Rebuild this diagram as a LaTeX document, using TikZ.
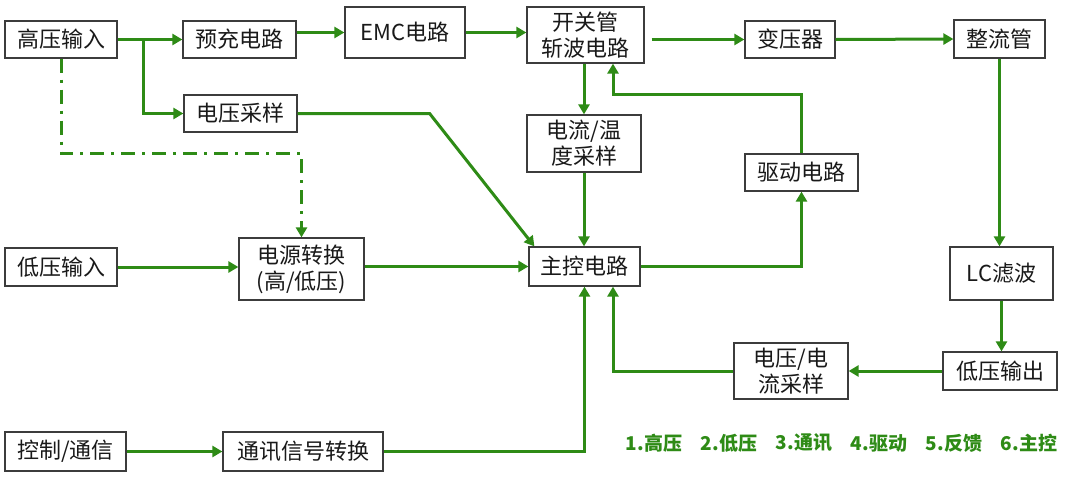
\documentclass[tikz,border=0pt]{standalone}
\usepackage{fontspec}
\setmainfont{Noto Sans CJK SC}
\usetikzlibrary{arrows.meta}
\definecolor{lnclr}{RGB}{46,139,22}
\definecolor{bdclr}{RGB}{60,60,60}

\begin{document}
\begin{tikzpicture}[x=1pt,y=-1pt,
  blk/.style={draw=bdclr,line width=1.2pt,fill=white,align=center,inner sep=0pt,
    text=black!90,font=\fontsize{22}{26}\selectfont},
  sz/.style 2 args={minimum width=#1pt,minimum height=#2pt},
  ln/.style={draw=lnclr,line width=3pt,-{Triangle[length=10pt,width=11pt]}},
  lnd/.style={ln,dash pattern=on 14pt off 7pt on 3pt off 7pt}]

            \useasboundingbox (0,0) rectangle (1080,480);

            % top row
            \node[blk,sz={112}{37}] (hv) at (61,39.5) {高压输入};
            \node[blk,sz={113}{37}] (pre) at (239.5,39.5) {预充电路};
            \node[blk,sz={120}{51}] (emc) at (405,32.5) {EMC电路};
            \node[blk,sz={117}{56}] (chop) at (585.5,35) {开关管\\斩波电路};
            \node[blk,sz={90}{37}] (tf) at (790,39.5) {变压器};
            \node[blk,sz={91}{38}] (rect) at (999.5,39) {整流管};

            % sampling and drive
            \node[blk,sz={113}{37}] (vs) at (240.5,113.5) {电压采样};
            \node[blk,sz={114}{57}] (cts) at (584,143.5) {电流/温\\度采样};
            \node[blk,sz={113}{37}] (drv) at (801.5,172.5) {驱动电路};

            % middle row
            \node[blk,sz={112}{38}] (lv) at (61,267) {低压输入};
            \node[blk,sz={125}{62}] (psu) at (301.5,269) {电源转换\\(高/低压)};
            \node[blk,sz={111}{39}] (mcu) at (584.5,266.5) {主控电路};
            \node[blk,sz={103}{53}] (lc) at (1001.5,273.5) {LC滤波};

            % output and feedback
            \node[blk,sz={114}{38}] (lvo) at (1000,371) {低压输出};
            \node[blk,sz={114}{56}] (fbs) at (791,371) {电压/电\\流采样};

            % bottom row
            \node[blk,sz={121}{39}] (ctl) at (65.5,451.5) {控制/通信};
            \node[blk,sz={160}{39}] (com) at (303,451.5) {通讯信号转换};

            % high voltage path
            \coordinate (br) at ([xshift=26pt]hv.east);
            \draw[ln] (hv.east) -- (pre.west);
            \draw[ln] (br) |- (vs.west);
            \draw[ln] (pre.east |- emc.west) -- (emc.west);
            \draw[ln] (emc.east) -- (chop.west |- emc.east);
            \draw[ln,shorten <=7pt] (chop.east |- tf.west) -- (tf.west);
            \draw[ln] (tf.east) -- (rect.west);
            \draw[ln] (rect.south) -- (rect.south |- lc.north);
            \draw[ln] (lc.south) -- (lc.south |- lvo.north);
            \draw[ln] (lvo.west) -- (fbs.east);
            \draw[lnd] (hv.south) -- ++(0,95) -| (psu.north);

            % control paths
            \coordinate (fbin) at ([xshift=28.5pt]mcu.south);
            \coordinate (drin) at ([xshift=27.5pt]chop.south);
            \draw[ln] (fbs.west) -| (fbin);
            \draw[ln] (com.east) -| (mcu.south);
            \draw[ln] (chop.south -| cts.north) -- (cts.north);
            \draw[ln] (cts.south) -- (cts.south |- mcu.north);
            \draw[ln] (vs.east) -- ++(132,0) -- ([xshift=6pt]mcu.north west);
            \draw[ln] (mcu.east) -| (drv.south);
            \draw[ln] (drv.north) -- ++(0,-59) -| (drin);
            \draw[ln] (lv.east) -- (lv.east -| psu.west);
            \draw[ln] (psu.east |- mcu.west) -- (mcu.west);
            \draw[ln] (ctl.east) -- (com.west);

            \foreach \i/\t in {1/高压,2/低压,3/通讯,4/驱动,5/反馈,6/主控}{
              \node[font=\bfseries\fontsize{19}{22}\selectfont,text=lnclr] (leg\i) at ({654+75*(\i-1)},443) {\i.\t};
            }

        \end{tikzpicture}
\end{document}
